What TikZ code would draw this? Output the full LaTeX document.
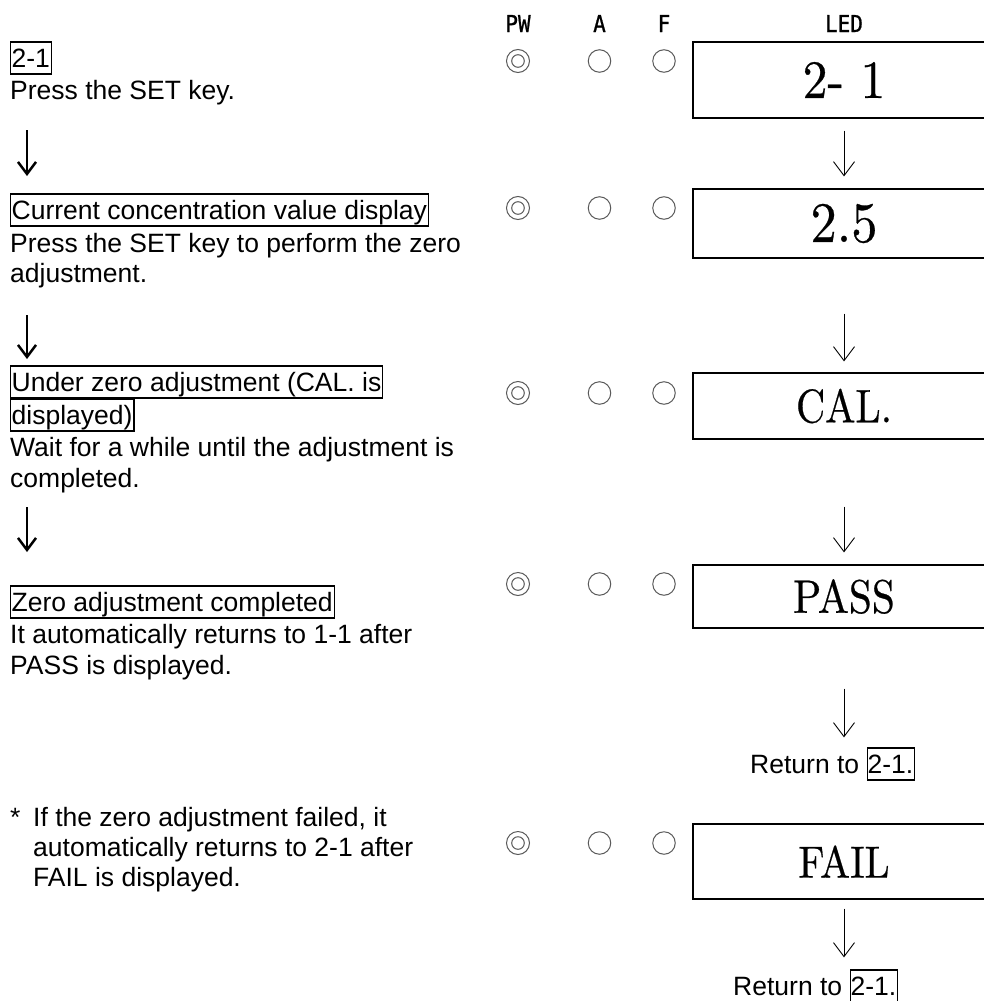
\documentclass[tikz,border=0pt]{standalone}
\usepackage{fontspec}
\newfontfamily\arialf{Liberation Sans}
\newfontfamily\monof{DejaVu Sans Mono}[FakeBold=1]
\newfontfamily\cmf{lmroman10-regular.otf}[FakeBold=0.5]
\usetikzlibrary{arrows.meta}
\tikzset{
  txt/.style={font=\arialf\fontsize{26.5}{30}\selectfont, anchor=base west,
    inner xsep=1.5pt, inner ysep=0.5pt, text height=24.5pt, text depth=6.5pt},
  tbox/.style={txt, draw, line width=1.3pt},
  hdr/.style={font=\monof\fontsize{23.3}{25}\selectfont, anchor=base, inner sep=0pt},
  ledbox/.style={draw, line width=1.2pt, minimum width=302pt, inner sep=0pt, font=\cmf},
  rarrow/.style={line width=0.9pt, -{Straight Barb[length=14pt,width=21pt]}},
  larrow/.style={line width=2.5pt, -{Straight Barb[length=12pt,width=18pt]}},
  lamp/.style={circle, draw=black!65, line width=1pt, minimum size=23pt, inner sep=0pt},
  lampin/.style={draw=black!65, line width=1pt}
}
\begin{document}
\begin{tikzpicture}[x=1pt,y=-1pt]
\useasboundingbox (0,0) rectangle (984,1001);
\clip (0,0) rectangle (984,1001);
% headers
\node[hdr] (hpw) at (518,32) {\scalebox{0.9}[1]{PW}};
\node[hdr] (ha) at (599.5,32) {\scalebox{0.9}[1]{A}};
\node[hdr] (hf) at (664,32) {\scalebox{0.9}[1]{F}};
\node[hdr] (hled) at (844,32) {\scalebox{0.9}[1]{LED}};
% lamps
\foreach \r/\y in {1/61,2/208,3/393,4/584,5/843}{
  \node[lamp] (pw\r) at (518,\y) {};
  \draw[lampin] (pw\r.center) circle (6.3);
  \node[lamp, minimum size=22.5pt] (a\r) at (599.5,\y) {};
  \node[lamp, minimum size=22.5pt] (f\r) at (664,\y) {};
}
% LED boxes
\node[ledbox, minimum height=76pt] (led1) at (844,80) {\scalebox{0.92}[1]{\fontsize{54}{54}\selectfont 2- 1}};
\node[ledbox, minimum height=69pt] (led2) at (844,223.5) {\scalebox{0.92}[1]{\fontsize{57}{57}\selectfont 2.5}};
\node[ledbox, minimum height=66pt] (led3) at (844,406) {\scalebox{0.86}[1]{\fontsize{47}{47}\selectfont CAL.}};
\node[ledbox, minimum height=63pt] (led4) at (844,596.5) {\scalebox{0.88}[1]{\fontsize{47}{47}\selectfont PASS}};
\node[ledbox, minimum height=75pt] (led5) at (844,861.5) {\scalebox{0.89}[1]{\fontsize{45}{45}\selectfont FAIL}};
% return labels
\node[txt] (ret1) at (748.5,773) {Return to};
\node[tbox] (ret1b) at (866.5,773) {\hspace{-1pt}2-1.\hspace{-1pt}};
\node[txt] (ret2) at (731.5,995) {Return to};
\node[tbox] (ret2b) at (849.5,995) {\hspace{-1pt}2-1.\hspace{-1pt}};
\coordinate (t4) at (led4.south |- ret1b.north);
\coordinate (t5) at (led5.south |- ret2b.north);
% right arrows
\draw[rarrow] ([yshift=-12pt]led1.south) -- ([yshift=12pt]led2.north);
\draw[rarrow] ([yshift=-55pt]led2.south) -- ([yshift=11pt]led3.north);
\draw[rarrow] ([yshift=-67pt]led3.south) -- ([yshift=12pt]led4.north);
\draw[rarrow] ([yshift=-60pt]led4.south) -- ([yshift=10pt]t4);
\draw[rarrow] ([yshift=-9pt]led5.south) -- ([yshift=12pt]t5);
% left column
\node[tbox] (s1) at (9.5,67) {2-1};
\node[txt] (s1t) at (8.5,99) {Press the SET key.};
\node[tbox] (s2) at (9.5,219) {Current concentration value display};
\node[txt] (s2t1) at (8.5,252) {Press the SET key to perform the zero};
\node[txt] (s2t2) at (8.5,282) {adjustment.};
\node[tbox] (s3a) at (9.5,391) {Under zero adjustment (CAL. is\hspace{15pt}};
\node[tbox] (s3b) at (9.5,424) {displayed)};
\node[txt] (s3t1) at (8.5,456) {Wait for a while until the adjustment is};
\node[txt] (s3t2) at (8.5,487) {completed.};
\node[tbox] (s4) at (9.5,611) {Zero adjustment completed};
\node[txt] (s4t1) at (8.5,643) {It automatically returns to 1-1 after};
\node[txt] (s4t2) at (8.5,674) {PASS is displayed.};
\node[txt] (ast) at (8.5,826) {*};
\node[txt] (n1) at (31.5,826) {If the zero adjustment failed, it};
\node[txt] (n2) at (31.5,856) {automatically returns to 2-1 after};
\node[txt] (n3) at (31.5,886) {FAIL is displayed.};
% left arrows
\coordinate (la1) at (27,130); \coordinate (lb1) at (27,176);
\coordinate (la2) at (27,315); \coordinate (lb2) at (27,359);
\coordinate (la3) at (27,507); \coordinate (lb3) at (27,552);
\draw[larrow] (la1) -- (lb1);
\draw[larrow] (la2) -- (lb2);
\draw[larrow] (la3) -- (lb3);
\end{tikzpicture}
\end{document}
